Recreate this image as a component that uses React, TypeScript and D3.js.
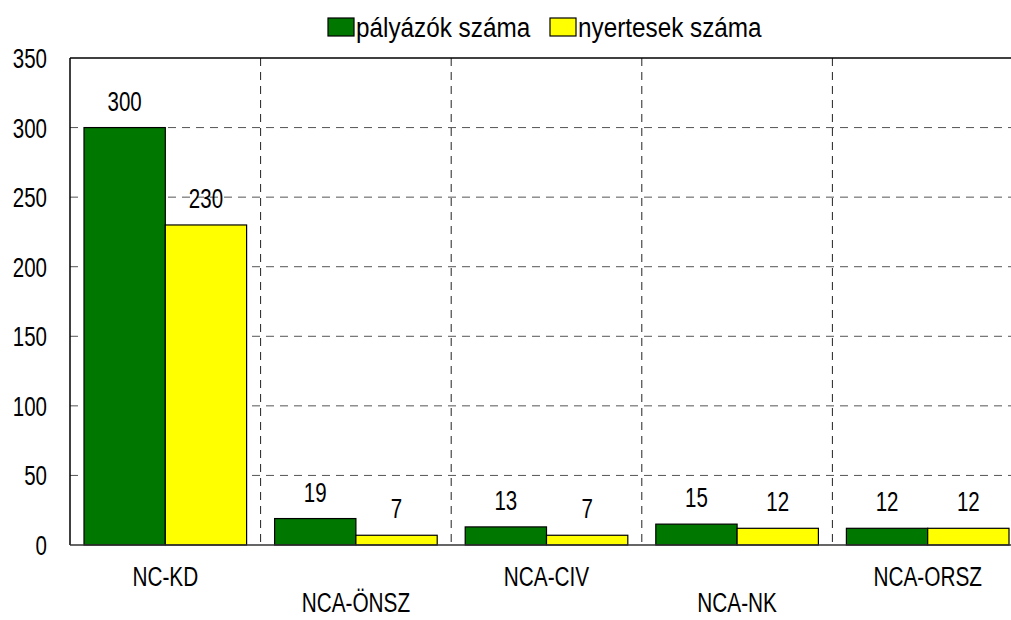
import React from 'react'
import * as d3 from 'd3'

const categories = ['NC-KD', 'NCA-ÖNSZ', 'NCA-CIV', 'NCA-NK', 'NCA-ORSZ']
const applicants = [300, 19, 13, 15, 12] // pályázók száma
const winners = [230, 7, 7, 12, 12] // nyertesek száma
const seriesNames = ['pályázók száma', 'nyertesek száma']
const seriesColors = ['#007800', '#ffff00']
const yTicks = [0, 50, 100, 150, 200, 250, 300, 350]

const width = 1011
const height = 620
const marginLeft = 70
const plotRight = 1023
const marginTop = 58
const plotBottom = 545
const font = "'Liberation Sans', Arial, sans-serif"
const fs = 27

// narrow-looking text: scale horizontally around the anchor point
const T = ({ x, y, anchor = 'middle', sx = 0.77, children }: any) => (
  <text
    transform={`translate(${x},${y}) scale(${sx},1)`}
    textAnchor={anchor}
    fontFamily={font}
    fontSize={fs}
    fill="#000"
  >
    {children}
  </text>
)

const App = () => {
  const x = d3.scaleBand<string>().domain(categories).range([marginLeft, plotRight])
  const inner = d3.scaleBand<number>().domain([0, 1]).range([14, x.bandwidth() - 14])
  const y = d3.scaleLinear().domain([0, 350]).range([plotBottom, marginTop])
  const series = [applicants, winners]

  return (
    <svg width={width} height={height} style={{ position: 'absolute', left: 0, top: 0 }}>
      <rect x={0} y={0} width={width} height={height} fill="#fff" />

      {/* horizontal grid */}
      {yTicks.filter(t => t > 0 && t < 350).map(t => (
        <line key={t} x1={marginLeft} x2={plotRight} y1={y(t)} y2={y(t)}
          stroke="#555" strokeWidth={1} strokeDasharray="8,6" />
      ))}
      {/* vertical grid between categories */}
      {categories.slice(1).map(c => (
        <line key={c} x1={x(c)!} x2={x(c)!} y1={marginTop} y2={plotBottom}
          stroke="#222" strokeWidth={1} strokeDasharray="8,6" />
      ))}

      {/* bars */}
      {categories.map((c, i) => series.map((s, j) => (
        <rect key={c + j}
          x={x(c)! + inner(j)!}
          y={y(s[i])}
          width={inner.bandwidth()}
          height={plotBottom - y(s[i])}
          fill={seriesColors[j]} stroke="#000" strokeWidth={1.2} />
      )))}

      {/* value labels */}
      {categories.map((c, i) => series.map((s, j) => (
        <T key={'v' + c + j} sx={0.76} x={x(c)! + inner(j)! + inner.bandwidth() / 2} y={y(s[i]) - 17}>
          {s[i]}
        </T>
      )))}

      {/* frame */}
      <line x1={marginLeft} x2={marginLeft} y1={marginTop} y2={plotBottom} stroke="#000" strokeWidth={1.5} />
      <line x1={marginLeft} x2={plotRight} y1={marginTop} y2={marginTop} stroke="#000" strokeWidth={1.5} />
      <line x1={marginLeft} x2={plotRight} y1={plotBottom} y2={plotBottom} stroke="#333" strokeWidth={1.5} />

      {/* y axis labels */}
      {yTicks.map(t => (
        <T key={'y' + t} sx={0.76} x={47} y={y(t) + 10} anchor="end">{t}</T>
      ))}

      {/* category labels, staggered */}
      {categories.map((c, i) => (
        <T key={'c' + c} x={x(c)! + x.bandwidth() / 2} y={i % 2 === 0 ? 586 : 612}>{c}</T>
      ))}

      {/* legend */}
      {seriesNames.map((n, j) => {
        const lx = j === 0 ? 328 : 550
        return (
          <g key={n}>
            <rect x={lx} y={18} width={26} height={18} fill={seriesColors[j]} stroke="#000" strokeWidth={1.2} />
            <T x={lx + 28} y={36.5} sx={0.9} anchor="start">{n}</T>
          </g>
        )
      })}
    </svg>
  )
}

export default App
